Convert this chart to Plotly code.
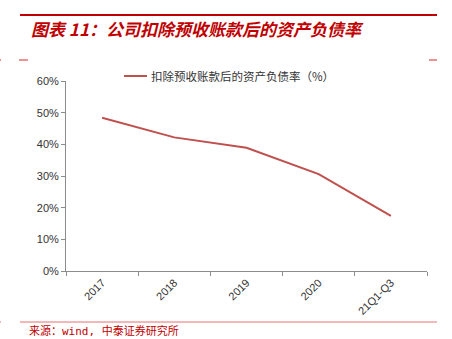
import plotly.graph_objects as go

# Asset-liability ratio after deducting advance receipts
categories = ["2017", "2018", "2019", "2020", "21Q1-Q3"]
ratio_pct = [48.4, 42.2, 38.9, 30.6, 17.4]
series_name = "扣除预收账款后的资产负债率（%）"
title_text = "图表 11：公司扣除预收账款后的资产负债率"
source_text = "来源：wind, 中泰证券研究所"
y_ticks = [0, 10, 20, 30, 40, 50, 60]

W, H = 452, 339
L, R, T, B = 66, 25, 81, 68
PW, PH = W - L - R, H - T - B


def px(x):
    return (x - L) / PW


def py(y):
    return (H - B - y) / PH


RED = "#C00000"
LINE_RED = "#C0504D"
CJK = "Noto Sans CJK SC, Arial, sans-serif"

fig = go.Figure()
fig.add_trace(go.Scatter(
    x=categories, y=[v / 100 for v in ratio_pct], mode="lines",
    line=dict(color=LINE_RED, width=2), name=series_name, showlegend=False,
))

fig.update_layout(
    width=W, height=H, margin=dict(l=L, r=R, t=T, b=B),
    paper_bgcolor="white", plot_bgcolor="white",
    font=dict(family="Arial, Liberation Sans, sans-serif", color="#333333", size=11),
    xaxis=dict(
        type="category", showgrid=False, zeroline=False,
        showline=True, linecolor="#8c8c8c", linewidth=1,
        ticks="outside", ticklen=4, tickcolor="#8c8c8c",
        tickson="boundaries", tickangle=-45,
        tickfont=dict(size=11, color="#333333"),
        range=[-0.5, 4.5],
    ),
    yaxis=dict(
        range=[0, 0.6], tickvals=[v / 100 for v in y_ticks],
        ticktext=[f"{v}%" for v in y_ticks],
        showgrid=False, zeroline=False,
        showline=True, linecolor="#8c8c8c", linewidth=1,
        ticks="outside", ticklen=4, tickcolor="#8c8c8c",
        tickfont=dict(size=11, color="#333333"),
    ),
)

shapes = []
# top rule above the title
shapes.append(dict(type="line", xref="paper", yref="paper",
                   x0=px(20), x1=px(437), y0=py(15), y1=py(15),
                   line=dict(color=RED, width=2)))
# small corner dashes under the title
for x0, x1 in [(0, 1), (19, 28), (429, 437)]:
    shapes.append(dict(type="line", xref="paper", yref="paper",
                       x0=px(x0), x1=px(x1), y0=py(60), y1=py(60),
                       line=dict(color="#E87070", width=1.5)))
# bottom rule above the source note
shapes.append(dict(type="line", xref="paper", yref="paper",
                   x0=px(20), x1=px(437), y0=py(322), y1=py(322),
                   line=dict(color="#E87070", width=1)))
shapes.append(dict(type="line", xref="paper", yref="paper",
                   x0=px(0), x1=px(1), y0=py(322), y1=py(322),
                   line=dict(color="#E87070", width=1)))
# legend swatch
shapes.append(dict(type="line", xref="paper", yref="paper",
                   x0=px(124), x1=px(147), y0=py(76), y1=py(76),
                   line=dict(color=LINE_RED, width=2)))
fig.update_layout(shapes=shapes)

fig.add_annotation(xref="paper", yref="paper", x=px(29), y=py(28),
                   xanchor="left", yanchor="middle", showarrow=False,
                   text=f"<b><i>{title_text}</i></b>",
                   font=dict(family=CJK, size=17, color=RED))
fig.add_annotation(xref="paper", yref="paper", x=px(149), y=py(76),
                   xanchor="left", yanchor="middle", showarrow=False,
                   text=series_name,
                   font=dict(family=CJK, size=11.5, color="#333333"))
fig.add_annotation(xref="paper", yref="paper", x=px(27), y=py(331),
                   xanchor="left", yanchor="middle", showarrow=False,
                   text=source_text,
                   font=dict(family="DejaVu Sans Mono, Noto Sans CJK SC, monospace", size=11, color=RED))

fig.write_html("out.html")
